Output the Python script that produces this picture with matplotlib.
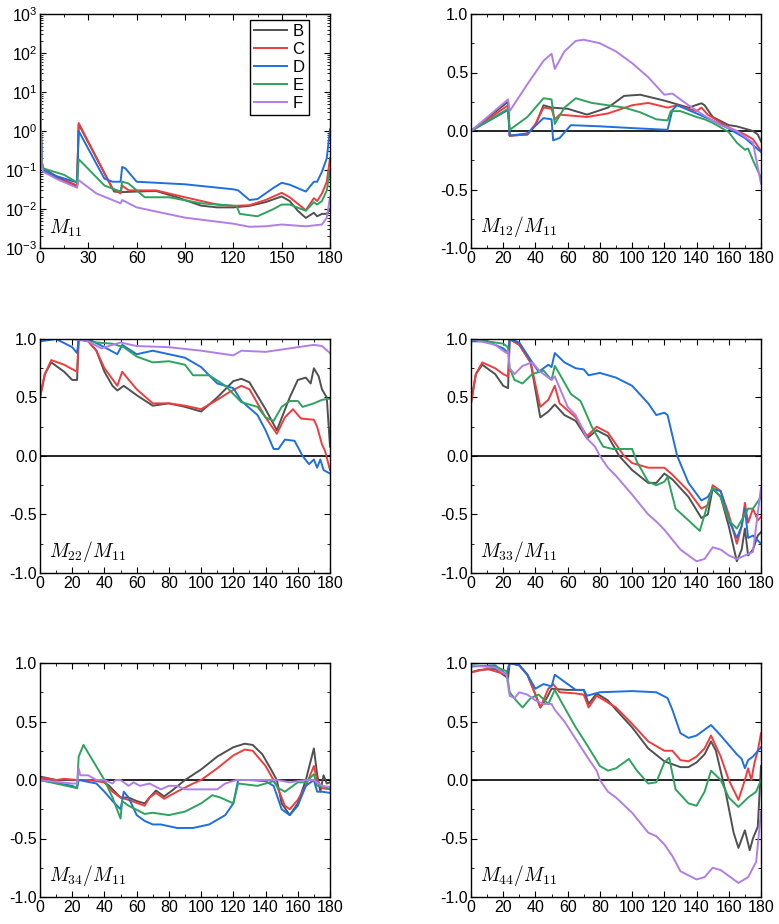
import matplotlib
matplotlib.use("Agg")
import matplotlib.pyplot as plt
from matplotlib.ticker import MultipleLocator, LogLocator, NullFormatter, FixedLocator

plt.rcParams['font.family'] = ['Liberation Sans', 'DejaVu Sans']
plt.rcParams['mathtext.fontset'] = 'cm'

series_names = ["B", "C", "D", "E", "F"]
series_colors = ["#505050", "#f03c3c", "#1f6fe0", "#2ea35e", "#b07ee6"]

# ---------------- M11 (log scale) ----------------
M11_B = [(0, 300), (0.5, 2), (1, 0.15), (2, 0.092), (10, 0.065), (23, 0.038), (24, 1.5), (46, 0.028),
         (50, 0.027), (60, 0.028), (72, 0.029), (85, 0.02), (100, 0.0122), (110, 0.011), (120, 0.011),
         (130, 0.012), (140, 0.015), (150, 0.021), (155, 0.016), (160, 0.009), (165, 0.0059),
         (170, 0.008), (172, 0.0065), (175, 0.0075), (178, 0.0075), (180, 0.01)]
M11_C = [(0, 300), (0.5, 2), (1, 0.17), (2, 0.11), (10, 0.07), (23, 0.04), (24, 1.6), (45, 0.033),
         (50, 0.025), (51, 0.04), (55, 0.03), (72, 0.03), (90, 0.02), (110, 0.013), (120, 0.012),
         (130, 0.0125), (140, 0.017), (150, 0.026), (155, 0.02), (165, 0.0093), (170, 0.019),
         (172, 0.016), (175, 0.025), (178, 0.05), (180, 0.2)]
M11_D = [(0, 300), (0.5, 2), (1, 0.16), (2, 0.1), (10, 0.07), (23, 0.048), (24, 1.0), (40, 0.06),
         (45, 0.05), (50, 0.05), (51, 0.12), (53, 0.11), (60, 0.05), (90, 0.043), (120, 0.032),
         (123, 0.03), (130, 0.017), (135, 0.018), (145, 0.035), (150, 0.047), (155, 0.042),
         (165, 0.028), (170, 0.05), (172, 0.05), (175, 0.09), (178, 0.2), (180, 1.1)]
M11_E = [(0, 300), (0.5, 2), (1, 0.17), (2, 0.11), (15, 0.075), (23, 0.048), (24, 0.19), (40, 0.04),
         (50, 0.028), (51, 0.05), (55, 0.045), (60, 0.03), (65, 0.02), (80, 0.02), (100, 0.014),
         (122, 0.012), (124, 0.0075), (135, 0.0065), (145, 0.01), (150, 0.013), (155, 0.013),
         (165, 0.009), (170, 0.015), (172, 0.013), (175, 0.016), (178, 0.03), (180, 0.1)]
M11_F = [(0, 1000), (0.5, 2), (1, 0.13), (2, 0.09), (10, 0.06), (23, 0.035), (24, 0.055),
         (35, 0.025), (50, 0.014), (51, 0.017), (60, 0.011), (90, 0.006), (120, 0.0042),
         (130, 0.0035), (140, 0.0036), (150, 0.004), (165, 0.0036), (175, 0.004), (178, 0.006), (180, 0.02)]

# ---------------- M12/M11 ----------------
M12_B = [(0, 0), (23, 0.25), (24, -0.04), (35, -0.03), (40, 0.05), (45, 0.22), (50, 0.2), (60, 0.19),
         (72, 0.14), (85, 0.2), (95, 0.3), (105, 0.31), (120, 0.26), (135, 0.2), (143, 0.237),
         (145, 0.22), (150, 0.12), (160, 0.05), (165, 0.04), (175, 0.0), (178, -0.03), (180, -0.09)]
M12_C = [(0, 0), (23, 0.22), (24, -0.04), (35, -0.03), (40, 0.06), (45, 0.2), (50, 0.19), (52, 0.1),
         (55, 0.14), (72, 0.12), (85, 0.15), (100, 0.22), (110, 0.24), (122, 0.2), (128, 0.22),
         (140, 0.17), (143, 0.2), (147, 0.14), (160, 0.03), (170, -0.03), (175, -0.07), (180, -0.17)]
M12_D = [(0, 0), (23, 0.18), (24, -0.04), (35, -0.02), (45, 0.11), (50, 0.1), (51, -0.08), (55, -0.06),
         (62, 0.05), (80, 0.04), (100, 0.025), (122, 0.01), (125, 0.18), (128, 0.22), (140, 0.15),
         (150, 0.09), (160, 0.02), (170, -0.06), (180, -0.18)]
M12_E = [(0, 0), (23, 0.19), (24, 0.01), (35, 0.12), (45, 0.28), (50, 0.27), (52, 0.06), (58, 0.2),
         (65, 0.28), (75, 0.24), (95, 0.2), (105, 0.16), (115, 0.1), (122, 0.09), (124, 0.17),
         (130, 0.17), (140, 0.12), (145, 0.1), (150, 0.07), (160, -0.01), (165, -0.1), (170, -0.16),
         (172, -0.15), (175, -0.25), (180, -0.4)]
M12_F = [(0, 0), (23, 0.27), (24, 0.17), (35, 0.4), (45, 0.6), (50, 0.66), (52, 0.53), (58, 0.68),
         (65, 0.77), (70, 0.78), (80, 0.75), (90, 0.68), (100, 0.58), (110, 0.46), (120, 0.31),
         (125, 0.32), (135, 0.22), (145, 0.13), (155, 0.05), (165, 0.0), (175, -0.1), (180, -0.45)]

# ---------------- M22/M11 ----------------
M22_B = [(0, 0.5), (3, 0.7), (7, 0.8), (15, 0.72), (20, 0.65), (23, 0.65), (24, 1.0), (30, 0.98),
         (35, 0.9), (40, 0.72), (45, 0.6), (48, 0.56), (52, 0.6), (60, 0.52), (70, 0.43), (80, 0.45),
         (90, 0.42), (100, 0.38), (110, 0.5), (120, 0.64), (125, 0.66), (130, 0.63), (140, 0.4),
         (147, 0.22), (155, 0.5), (160, 0.65), (165, 0.67), (168, 0.62), (170, 0.75), (173, 0.68),
         (175, 0.57), (178, 0.5), (180, 0.08)]
M22_C = [(0, 0.5), (3, 0.7), (7, 0.82), (15, 0.78), (23, 0.72), (24, 1.0), (30, 0.98), (35, 0.9),
         (40, 0.75), (48, 0.6), (51, 0.72), (60, 0.57), (70, 0.45), (80, 0.45), (90, 0.43), (100, 0.4),
         (110, 0.48), (118, 0.55), (125, 0.6), (130, 0.57), (140, 0.33), (147, 0.19), (152, 0.33),
         (157, 0.4), (162, 0.32), (170, 0.31), (172, 0.25), (175, 0.1), (177, 0.04), (180, -0.12)]
M22_D = [(0, 0.98), (10, 1.0), (20, 0.93), (23, 0.88), (24, 1.0), (30, 1.0), (40, 0.93), (48, 0.87),
         (51, 0.95), (60, 0.87), (70, 0.9), (80, 0.87), (90, 0.84), (100, 0.76), (110, 0.62),
         (120, 0.58), (125, 0.47), (135, 0.35), (140, 0.22), (145, 0.06), (148, 0.06), (152, 0.14),
         (158, 0.13), (163, 0.0), (167, -0.07), (170, -0.03), (172, -0.1), (174, -0.03), (176, -0.12),
         (180, -0.15)]
M22_E = [(0, 1.0), (20, 1.0), (24, 1.0), (35, 0.97), (45, 0.96), (52, 0.93), (60, 0.85), (70, 0.8),
         (80, 0.81), (90, 0.78), (95, 0.69), (105, 0.69), (115, 0.6), (125, 0.46), (135, 0.42),
         (140, 0.33), (145, 0.3), (150, 0.42), (155, 0.47), (160, 0.47), (163, 0.42), (170, 0.45),
         (175, 0.48), (180, 0.49)]
M22_F = [(0, 1.0), (20, 1.0), (30, 0.98), (38, 0.92), (45, 0.95), (50, 0.97), (60, 0.94), (80, 0.93),
         (100, 0.9), (120, 0.86), (125, 0.9), (140, 0.89), (155, 0.92), (170, 0.95), (175, 0.94),
         (180, 0.88)]

# ---------------- M33/M11 ----------------
M33_B = [(0, 0.45), (3, 0.7), (7, 0.78), (15, 0.7), (20, 0.6), (23, 0.58), (24, 1.0), (30, 0.95),
         (37, 0.8), (43, 0.33), (48, 0.38), (52, 0.44), (58, 0.35), (65, 0.3), (72, 0.15), (78, 0.22),
         (85, 0.17), (92, 0.0), (100, -0.12), (110, -0.23), (115, -0.23), (120, -0.15), (125, -0.2),
         (135, -0.35), (143, -0.53), (147, -0.5), (150, -0.28), (155, -0.35), (160, -0.6), (165, -0.9),
         (168, -0.8), (170, -0.62), (172, -0.85), (175, -0.8), (178, -0.68), (180, -0.65)]
M33_C = [(0, 0.45), (3, 0.7), (7, 0.8), (15, 0.75), (20, 0.7), (23, 0.68), (24, 1.0), (30, 0.95),
         (37, 0.8), (43, 0.42), (48, 0.48), (52, 0.6), (55, 0.45), (65, 0.33), (72, 0.17), (78, 0.25),
         (85, 0.2), (95, 0.0), (100, -0.06), (110, -0.1), (120, -0.1), (125, -0.16), (135, -0.3),
         (143, -0.45), (147, -0.42), (150, -0.25), (155, -0.3), (160, -0.5), (165, -0.75), (168, -0.6),
         (170, -0.4), (172, -0.57), (175, -0.45), (178, -0.55), (180, -0.52)]
M33_D = [(0, 0.98), (10, 0.98), (20, 0.92), (23, 0.88), (24, 1.0), (30, 0.97), (38, 0.8), (42, 0.72),
         (48, 0.78), (50, 0.76), (52, 0.88), (58, 0.8), (65, 0.75), (70, 0.74), (73, 0.69), (80, 0.71),
         (90, 0.67), (100, 0.6), (110, 0.45), (115, 0.35), (120, 0.37), (122, 0.35), (128, 0.0),
         (135, -0.23), (143, -0.38), (147, -0.35), (150, -0.28), (155, -0.3), (160, -0.55),
         (165, -0.7), (168, -0.6), (170, -0.45), (172, -0.7), (175, -0.68), (180, -0.75)]
M33_E = [(0, 1.0), (20, 0.96), (23, 0.93), (24, 0.75), (27, 0.65), (32, 0.62), (38, 0.7), (45, 0.73),
         (50, 0.65), (52, 0.77), (55, 0.7), (62, 0.53), (68, 0.47), (75, 0.25), (82, 0.08), (88, 0.06),
         (100, 0.06), (103, -0.05), (110, -0.22), (115, -0.25), (120, -0.22), (122, -0.18),
         (127, -0.45), (135, -0.55), (142, -0.64), (150, -0.27), (155, -0.35), (160, -0.55),
         (165, -0.62), (170, -0.5), (172, -0.45), (175, -0.45), (180, -0.35)]
M33_F = [(0, 1.0), (15, 0.95), (22, 0.88), (23, 0.9), (24, 0.75), (27, 0.7), (32, 0.77), (38, 0.8),
         (43, 0.72), (50, 0.65), (52, 0.68), (60, 0.42), (65, 0.35), (72, 0.15), (77, 0.08), (80, 0.0),
         (85, -0.1), (90, -0.17), (100, -0.33), (110, -0.5), (115, -0.56), (120, -0.63), (130, -0.8),
         (140, -0.9), (145, -0.88), (150, -0.78), (155, -0.8), (160, -0.85), (165, -0.88),
         (170, -0.85), (175, -0.82), (180, -0.27)]

# ---------------- M34/M11 ----------------
M34_B = [(0, 0.03), (10, 0.0), (23, 0.0), (30, 0.0), (38, 0.0), (43, -0.05), (50, -0.15), (55, -0.15),
         (60, -0.18), (65, -0.2), (68, -0.15), (72, -0.09), (77, -0.14), (82, -0.09), (90, 0.0),
         (100, 0.09), (110, 0.2), (120, 0.28), (127, 0.31), (132, 0.3), (138, 0.22), (143, 0.1),
         (147, 0.0), (150, -0.2), (155, -0.3), (160, -0.2), (165, 0.0), (170, 0.27), (172, 0.05),
         (174, -0.1), (176, 0.04), (178, -0.03), (180, -0.02)]
M34_C = [(0, 0.02), (10, 0.0), (15, 0.01), (23, 0.0), (30, 0.0), (40, -0.02), (45, -0.1), (50, -0.15),
         (55, -0.17), (65, -0.22), (68, -0.15), (72, -0.11), (77, -0.16), (85, -0.1), (95, -0.03),
         (100, 0.0), (110, 0.1), (120, 0.21), (127, 0.26), (132, 0.25), (140, 0.12), (147, -0.05),
         (152, -0.22), (155, -0.25), (160, -0.17), (165, -0.05), (170, 0.12), (172, 0.0),
         (175, -0.07), (180, -0.08)]
M34_D = [(0, 0.0), (20, -0.05), (23, -0.07), (24, 0.0), (35, -0.03), (40, -0.1), (45, -0.18),
         (50, -0.25), (52, -0.1), (55, -0.15), (60, -0.3), (65, -0.35), (70, -0.38), (75, -0.38),
         (85, -0.41), (95, -0.41), (105, -0.38), (115, -0.3), (120, -0.2), (123, 0.0), (130, 0.0),
         (140, -0.01), (145, -0.05), (150, -0.25), (155, -0.3), (160, -0.22), (165, -0.05),
         (170, 0.0), (172, -0.1), (175, -0.1), (180, -0.11)]
M34_E = [(0, 0.0), (23, -0.07), (24, 0.2), (27, 0.3), (30, 0.23), (40, 0.0), (45, -0.15), (50, -0.33),
         (51, -0.18), (55, -0.22), (65, -0.29), (70, -0.28), (80, -0.3), (90, -0.27), (100, -0.2),
         (107, -0.13), (112, -0.15), (120, -0.2), (123, -0.03), (135, -0.05), (145, -0.01),
         (148, -0.07), (152, -0.1), (160, -0.02), (165, -0.02), (170, 0.05), (172, -0.05),
         (175, -0.05), (180, -0.08)]
M34_F = [(0, 0.0), (20, -0.03), (23, -0.03), (24, 0.1), (25, 0.04), (30, 0.04), (35, 0.0), (40, 0.0),
         (45, -0.03), (47, 0.0), (50, 0.0), (55, -0.05), (58, -0.02), (62, -0.05), (68, -0.03),
         (75, -0.08), (80, -0.05), (85, -0.05), (90, -0.08), (100, -0.08), (110, -0.08), (115, -0.03),
         (122, 0.0), (140, 0.0), (147, 0.0), (155, -0.02), (165, 0.0), (170, 0.0), (175, -0.05),
         (180, -0.06)]

# ---------------- M44/M11 ----------------
M44_B = [(0, 0.92), (5, 0.94), (15, 0.95), (22, 0.88), (23, 0.87), (24, 1.0), (30, 0.98), (35, 0.9),
         (40, 0.73), (43, 0.62), (47, 0.7), (50, 0.78), (60, 0.77), (70, 0.77), (73, 0.65), (78, 0.74),
         (85, 0.68), (90, 0.6), (100, 0.45), (110, 0.27), (120, 0.16), (130, 0.11), (135, 0.11),
         (140, 0.15), (145, 0.22), (149, 0.33), (152, 0.25), (158, -0.1), (163, -0.45), (166, -0.58),
         (170, -0.43), (173, -0.6), (175, -0.5), (178, -0.4), (180, 0.12)]
M44_C = [(0, 0.92), (10, 0.95), (22, 0.9), (24, 1.0), (30, 0.98), (35, 0.9), (40, 0.73), (43, 0.62),
         (48, 0.78), (51, 0.82), (55, 0.75), (65, 0.74), (70, 0.73), (73, 0.62), (78, 0.72), (90, 0.62),
         (100, 0.48), (110, 0.33), (120, 0.25), (125, 0.25), (130, 0.17), (135, 0.16), (140, 0.2),
         (145, 0.27), (149, 0.38), (155, 0.2), (160, 0.0), (166, -0.17), (170, 0.0), (172, 0.1),
         (174, 0.0), (176, 0.15), (178, 0.25), (180, 0.4)]
M44_D = [(0, 0.97), (15, 0.98), (22, 0.9), (24, 1.0), (30, 0.98), (35, 0.9), (40, 0.78), (45, 0.82),
         (50, 0.8), (52, 0.9), (57, 0.85), (65, 0.77), (70, 0.77), (72, 0.72), (80, 0.75), (100, 0.76),
         (115, 0.75), (122, 0.7), (125, 0.6), (130, 0.4), (135, 0.36), (140, 0.38), (149, 0.47),
         (155, 0.38), (160, 0.3), (165, 0.22), (168, 0.18), (170, 0.1), (172, 0.17), (175, 0.2),
         (180, 0.28)]
M44_E = [(0, 0.98), (15, 0.97), (22, 0.93), (24, 0.75), (28, 0.68), (32, 0.62), (37, 0.7), (42, 0.73),
         (48, 0.65), (52, 0.77), (58, 0.62), (65, 0.45), (72, 0.3), (80, 0.12), (85, 0.08), (90, 0.1),
         (98, 0.18), (103, 0.08), (110, -0.03), (115, -0.02), (120, 0.15), (123, 0.19), (127, -0.08),
         (135, -0.2), (140, -0.22), (145, -0.1), (149, 0.08), (155, 0.0), (160, -0.15), (166, -0.23),
         (172, -0.15), (177, -0.1), (180, 0.0)]
M44_F = [(0, 0.98), (15, 0.96), (22, 0.9), (24, 0.72), (27, 0.7), (30, 0.75), (35, 0.73), (40, 0.68),
         (45, 0.65), (50, 0.65), (52, 0.6), (58, 0.5), (65, 0.35), (72, 0.2), (78, 0.08), (80, 0.0),
         (85, -0.1), (90, -0.15), (100, -0.28), (110, -0.45), (115, -0.48), (120, -0.55), (125, -0.65),
         (130, -0.78), (140, -0.85), (145, -0.83), (150, -0.75), (155, -0.77), (160, -0.82),
         (166, -0.88), (172, -0.83), (177, -0.7), (180, -0.27)]

panels = [
    ([M11_B, M11_C, M11_D, M11_E, M11_F], r"$M_{11}$"),
    ([M12_B, M12_C, M12_D, M12_E, M12_F], r"$M_{12}/M_{11}$"),
    ([M22_B, M22_C, M22_D, M22_E, M22_F], r"$M_{22}/M_{11}$"),
    ([M33_B, M33_C, M33_D, M33_E, M33_F], r"$M_{33}/M_{11}$"),
    ([M34_B, M34_C, M34_D, M34_E, M34_F], r"$M_{34}/M_{11}$"),
    ([M44_B, M44_C, M44_D, M44_E, M44_F], r"$M_{44}/M_{11}$"),
]

W, H = 779, 924
fig = plt.figure(figsize=(W / 100, H / 100), dpi=100)
lefts = [40, 471]
tops = [14, 339, 663]
aw, ah = 290, 234

for i, (series, label) in enumerate(panels):
    r, c = divmod(i, 2)
    ax = fig.add_axes([lefts[c] / W, 1 - (tops[r] + ah) / H, aw / W, ah / H])
    for s, name, col in zip(series, series_names, series_colors):
        xs = [p[0] for p in s]
        ys = [p[1] for p in s]
        ax.plot(xs, ys, color=col, lw=1.4, label=name)
    ax.set_xlim(0, 180)
    if i == 0:
        ax.set_yscale('log')
        ax.set_ylim(1e-3, 1e3)
        ax.xaxis.set_major_locator(MultipleLocator(30))
        ax.xaxis.set_minor_locator(MultipleLocator(15))
        ax.yaxis.set_major_locator(LogLocator(base=10, numticks=10))
        ax.yaxis.set_minor_locator(LogLocator(base=10, subs=range(2, 10), numticks=10))
        ax.yaxis.set_minor_formatter(NullFormatter())
        leg = ax.legend(loc='upper right', bbox_to_anchor=(0.926, 0.975), borderaxespad=0,
                        fontsize=12, handlelength=2.0, handletextpad=0.3, labelspacing=0.18,
                        fancybox=False, edgecolor='black', framealpha=1, borderpad=0.25)
        leg.get_frame().set_linewidth(1.0)
    else:
        ax.set_ylim(-1, 1)
        ax.axhline(0, color='black', lw=1.2, zorder=0.5)
        ax.xaxis.set_major_locator(MultipleLocator(20))
        ax.xaxis.set_minor_locator(MultipleLocator(10))
        ax.yaxis.set_major_locator(FixedLocator([-1, -0.5, 0, 0.5, 1]))
        ax.yaxis.set_minor_locator(MultipleLocator(0.25))
        ax.set_yticklabels(["-1.0", "-0.5", "0.0", "0.5", "1.0"])
    ax.tick_params(which='both', direction='in', top=True, right=True, labelsize=11.5, pad=2)
    ax.tick_params(which='major', length=4)
    ax.tick_params(which='minor', length=2)
    for sp in ax.spines.values():
        sp.set_linewidth(1.0)
    ax.text(0.03, 0.04, label, transform=ax.transAxes, fontsize=14, ha='left', va='bottom')

fig.savefig("out.png", dpi=100)
